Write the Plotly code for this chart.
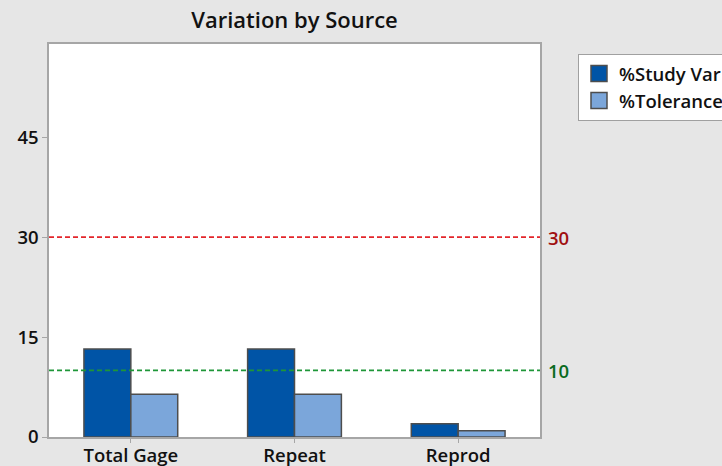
import plotly.graph_objects as go

categories = ["Total Gage", "Repeat", "Reprod"]
study_var = [13.2, 13.2, 2.0]
tolerance = [6.4, 6.4, 0.95]
ref_values = [30, 10]
ref_line_colors = ["#E3262B", "#1E9638"]
ref_text_colors = ["#A01010", "#0A6B1E"]
y_ticks = [0, 15, 30, 45]

FONT = "Open Sans"
dark = "#0054A6"
light = "#7BA6DA"
edge = "#4D4D4D"

fig = go.Figure()
fig.add_trace(go.Bar(x=categories, y=study_var, name="%Study Var",
                     marker=dict(color=dark, line=dict(color=edge, width=1.5)),
                     showlegend=False))
fig.add_trace(go.Bar(x=categories, y=tolerance, name="%Tolerance",
                     marker=dict(color=light, line=dict(color=edge, width=1.5)),
                     showlegend=False))
# legend entries
for nm, col in [("%Study Var", dark), ("%Tolerance", light)]:
    fig.add_trace(go.Scatter(x=[None], y=[None], mode="markers", name=nm,
                             marker=dict(symbol="square", size=16, color=col,
                                         line=dict(color=edge, width=1.5))))

for v, lc, tc in zip(ref_values, ref_line_colors, ref_text_colors):
    fig.add_shape(type="line", xref="paper", yref="y", x0=0, x1=1, y0=v, y1=v,
                  line=dict(color=lc, width=1.8, dash="5px,3px"), layer="above")
    fig.add_annotation(xref="paper", yref="y", x=1, y=v, text=str(v),
                       showarrow=False, xanchor="left", xshift=6,
                       font=dict(family=FONT, size=18.5, color=tc, weight=600))

fig.update_layout(
    width=722, height=466,
    margin=dict(l=49, r=182, t=44, b=29, autoexpand=False),
    paper_bgcolor="#E6E6E6", plot_bgcolor="white",
    barmode="group", bargap=0.427, bargroupgap=0,
    title=dict(text="Variation by Source", x=0.5, xref="paper", y=1 - 20 / 466,
               yanchor="middle", font=dict(family=FONT, size=22, color="#111111", weight=600)),
    font=dict(family=FONT, size=18.5, color="#111111"),
    legend=dict(x=(578 - 49) / 491, y=(437 - 54) / 393, xanchor="left", yanchor="top",
                bgcolor="white", bordercolor="#A0A0A0", borderwidth=1,
                font=dict(family=FONT, size=18.5, color="#111111", weight=600),
                itemwidth=30, tracegroupgap=0),
)
fig.update_xaxes(showline=True, mirror=True, linecolor="#A6A6A6", linewidth=1.5,
                 ticks="outside", ticklen=4, tickcolor="#A6A6A6", automargin=False,
                 ticklabelstandoff=-3,
                 tickfont=dict(family=FONT, size=18.5, weight=600), showgrid=False)
fig.update_yaxes(range=[0, 59], tickvals=y_ticks, showline=True, mirror=True,
                 linecolor="#A6A6A6", linewidth=1.5, ticks="outside", ticklen=5,
                 tickcolor="#A6A6A6", tickfont=dict(family=FONT, size=18.5, weight=600),
                 showgrid=False, zeroline=False, automargin=False)

fig.write_html("out.html", config={"displayModeBar": False},
               post_script="document.body.style.margin='0';document.body.style.padding='0';"
                           "document.body.style.overflow='hidden';")
